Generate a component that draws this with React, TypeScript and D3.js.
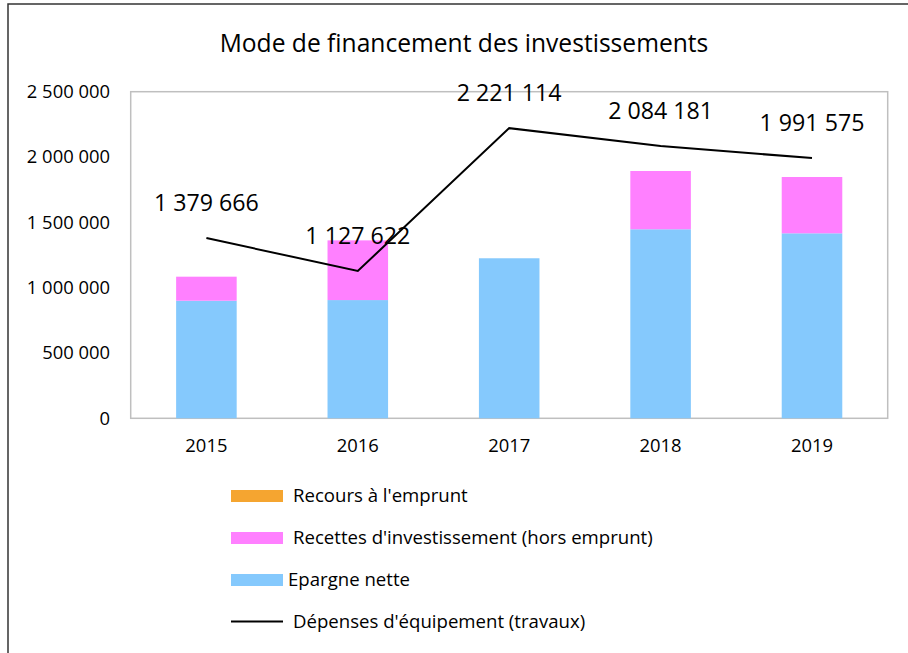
import React from 'react';
import * as d3 from 'd3';

const years = ['2015', '2016', '2017', '2018', '2019'];
const epargneNette = [900000, 905000, 1225000, 1447000, 1416000];
const recettesInvest = [184000, 457000, 0, 446000, 431000];
const recoursEmprunt = [0, 0, 0, 0, 0];
const depensesEquipement = [1379666, 1127622, 2221114, 2084181, 1991575];
const yTicks = [0, 500000, 1000000, 1500000, 2000000, 2500000];

const seriesNames = ['Epargne nette', "Recettes d'investissement (hors emprunt)", "Recours à l'emprunt"];
const seriesColors = ['#85C9FD', '#FF80FF', '#F5A530'];
const lineName = "Dépenses d'équipement (travaux)";

const fr = d3.formatLocale({ decimal: ',', thousands: ' ', grouping: [3], currency: ['', ' €'] });
const fmt = fr.format(',d');

const font = "'Open Sans', sans-serif";

export default function App() {
  const width = 908;
  const height = 653;
  const plot = { left: 130.7, top: 91.7, right: 887.7, bottom: 418.3 };

  const x = d3.scaleBand().domain(years).range([plot.left, plot.right]).paddingInner(0.6).paddingOuter(0.3);
  const y = d3.scaleLinear().domain([0, 2500000]).range([plot.bottom, plot.top]);

  const rows = years.map((yr, i) => ({
    year: yr,
    epargne: epargneNette[i],
    recettes: recettesInvest[i],
    emprunt: recoursEmprunt[i],
  }));
  const stack = d3.stack<any>().keys(['epargne', 'recettes', 'emprunt']);
  const layers = stack(rows);

  const cx = (yr: string) => (x(yr) as number) + x.bandwidth() / 2;
  const line = d3
    .line<number>()
    .x((_, i) => cx(years[i]))
    .y((d) => y(d));

  // legend entries, top to bottom
  const legend = [
    { label: "Recours à l'emprunt", color: seriesColors[2], type: 'rect', textX: 293 },
    { label: seriesNames[1], color: seriesColors[1], type: 'rect', textX: 293 },
    { label: seriesNames[0], color: seriesColors[0], type: 'rect', textX: 288 },
    { label: lineName, color: '#000', type: 'line', textX: 293 },
  ];

  return (
    <svg
      width={width}
      height={height}
      style={{ position: 'absolute', left: 0, top: 0, background: '#fff' }}
      fontFamily={font}
    >
      <rect x={8} y={4} width={width + 10} height={height + 10} fill="#fff" stroke="#333" strokeWidth={1.5} />

      <text x={464} y={51.5} textAnchor="middle" fontSize={24.6} fill="#000">
        Mode de financement des investissements
      </text>

      <rect
        x={plot.left}
        y={plot.top}
        width={plot.right - plot.left}
        height={plot.bottom - plot.top}
        fill="none"
        stroke="#BFBFBF"
        strokeWidth={1.5}
      />

      {yTicks.map((t) => (
        <text key={t} x={110} y={y(t)} dy="0.35em" textAnchor="end" fontSize={18.4} fill="#000">
          {fmt(t)}
        </text>
      ))}

      {layers.map((layer, li) => (
        <g key={layer.key} fill={seriesColors[li]}>
          {layer.map((d, i) =>
            d[1] - d[0] > 0 ? (
              <rect
                key={years[i]}
                x={x(years[i])}
                y={y(d[1])}
                width={x.bandwidth()}
                height={y(d[0]) - y(d[1])}
              />
            ) : null
          )}
        </g>
      ))}

      {years.map((yr) => (
        <text key={yr} x={cx(yr)} y={451.5} textAnchor="middle" fontSize={18.4} fill="#000">
          {yr}
        </text>
      ))}

      <path d={line(depensesEquipement) || ''} fill="none" stroke="#000" strokeWidth={2} />

      {depensesEquipement.map((v, i) => (
        <text key={i} x={cx(years[i])} y={y(v) - 27} textAnchor="middle" fontSize={23.2} fill="#000">
          {fmt(v)}
        </text>
      ))}

      {legend.map((item, i) => {
        const base = 502 + i * 42;
        return (
          <g key={item.label}>
            {item.type === 'rect' ? (
              <rect x={231} y={base - 12} width={52} height={12} fill={item.color} />
            ) : (
              <line x1={231} x2={283} y1={base - 6.5} y2={base - 6.5} stroke={item.color} strokeWidth={2} />
            )}
            <text x={item.textX} y={base} fontSize={18.6} fill="#000">
              {item.label}
            </text>
          </g>
        );
      })}
    </svg>
  );
}
